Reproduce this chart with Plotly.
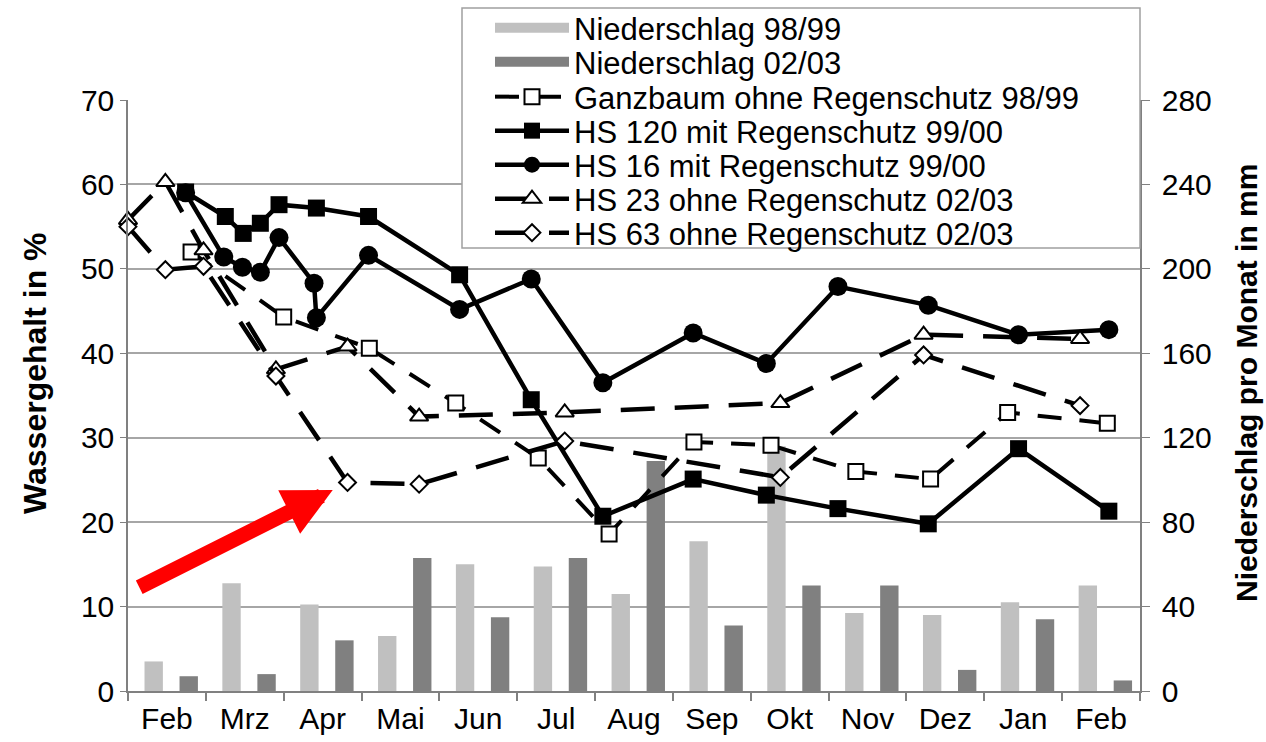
import plotly.graph_objects as go

# Monate (Feb bis Feb), x = Monatsindex, 0 = Beginn Februar
months = ["Feb", "Mrz", "Apr", "Mai", "Jun", "Jul", "Aug", "Sep", "Okt", "Nov", "Dez", "Jan", "Feb"]

# Niederschlag pro Monat in mm
niederschlag_9899 = [14, 51, 41, 26, 60, 59, 46, 71, 116, 37, 36, 42, 50]
niederschlag_0203 = [7, 8, 24, 63, 35, 63, 109, 31, 50, 50, 10, 34, 5]

# Wassergehalt in % (Messzeitpunkte als Bruchteil der Monate)
ganzbaum_x = [0.81, 2.00, 3.10, 4.21, 5.27, 6.18, 7.27, 8.26, 9.35, 10.31, 11.30, 12.58]
ganzbaum_y = [52.0, 44.3, 40.6, 34.1, 27.6, 18.6, 29.5, 29.1, 26.0, 25.1, 33.0, 31.7]

hs120_x = [0.74, 1.25, 1.48, 1.70, 1.94, 2.42, 3.09, 4.26, 5.18, 6.10, 7.26, 8.20, 9.12, 10.28, 11.44, 12.60]
hs120_y = [59.1, 56.2, 54.2, 55.4, 57.6, 57.2, 56.2, 49.3, 34.5, 20.7, 25.1, 23.2, 21.6, 19.8, 28.7, 21.3]

hs16_x = [0.74, 1.23, 1.47, 1.70, 1.94, 2.39, 2.42, 3.09, 4.26, 5.18, 6.10, 7.26, 8.20, 9.12, 10.28, 11.44, 12.60]
hs16_y = [59.0, 51.4, 50.2, 49.6, 53.7, 48.3, 44.2, 51.6, 45.2, 48.8, 36.5, 42.4, 38.8, 47.9, 45.7, 42.2, 42.8]

messung_0203_x = [0.0, 0.48, 0.97, 1.90, 2.82, 3.74, 5.61, 8.38, 10.22, 12.23]
hs23_y = [55.8, 60.3, 52.2, 38.1, 40.8, 32.5, 33.0, 34.1, 42.2, 41.7]
hs63_y = [55.0, 49.9, 50.3, 37.3, 24.7, 24.5, 29.6, 25.3, 39.8, 33.8]

# Seitenlayout in Pixeln
WIDTH, HEIGHT = 1266, 742
PLOT_LEFT, PLOT_RIGHT, PLOT_TOP, PLOT_BOTTOM = 128, 1140, 100, 691
PLOT_W = PLOT_RIGHT - PLOT_LEFT
PLOT_H = PLOT_BOTTOM - PLOT_TOP

FONT = "Liberation Sans, Arial, sans-serif"
AXIS_GRAY = "#808080"
LIGHT_BAR = "#c0c0c0"
DARK_BAR = "#808080"


def paper_x(px):
    return (px - PLOT_LEFT) / PLOT_W


def paper_y(py):
    return (PLOT_BOTTOM - py) / PLOT_H


def create_figure():
    fig = go.Figure()
    month_idx = list(range(len(months)))

    # Balken (rechte Achse)
    fig.add_trace(go.Bar(
        x=month_idx, y=niederschlag_9899, offset=0.212, width=0.236,
        marker=dict(color=LIGHT_BAR, line=dict(width=0)),
        name="Niederschlag 98/99", yaxis="y", showlegend=False,
    ))
    fig.add_trace(go.Bar(
        x=month_idx, y=niederschlag_0203, offset=0.662, width=0.236,
        marker=dict(color=DARK_BAR, line=dict(width=0)),
        name="Niederschlag 02/03", yaxis="y", showlegend=False,
    ))
    # breite Legendenfelder für die Balken
    for name, color, leg in [("Niederschlag 98/99", LIGHT_BAR, "legend2"),
                             ("Niederschlag 02/03", DARK_BAR, "legend3")]:
        fig.add_trace(go.Scatter(
            x=[None], y=[None], mode="lines", name=name, legend=leg,
            line=dict(color=color, width=10), yaxis="y",
        ))

    # Linien (linke Achse)
    fig.add_trace(go.Scatter(
        x=ganzbaum_x, y=ganzbaum_y, mode="lines+markers", yaxis="y2",
        name="Ganzbaum ohne Regenschutz 98/99", legend="legend4",
        line=dict(color="black", width=4, dash="24px,18px"),
        marker=dict(symbol="square", size=15, color="white", line=dict(color="black", width=2)),
        cliponaxis=False,
    ))
    fig.add_trace(go.Scatter(
        x=hs120_x, y=hs120_y, mode="lines+markers", yaxis="y2",
        name="HS 120 mit Regenschutz 99/00", legend="legend5",
        line=dict(color="black", width=4.5),
        marker=dict(symbol="square", size=17, color="black"),
        cliponaxis=False,
    ))
    fig.add_trace(go.Scatter(
        x=hs16_x, y=hs16_y, mode="lines+markers", yaxis="y2",
        name="HS 16 mit Regenschutz 99/00", legend="legend6",
        line=dict(color="black", width=4.5),
        marker=dict(symbol="circle", size=19, color="black"),
        cliponaxis=False,
    ))
    fig.add_trace(go.Scatter(
        x=messung_0203_x, y=hs23_y, mode="lines+markers", yaxis="y2",
        name="HS 23 ohne Regenschutz 02/03", legend="legend7",
        line=dict(color="black", width=4.5, dash="34px,20px"),
        marker=dict(symbol="triangle-up", size=16, color="white", line=dict(color="black", width=2)),
        cliponaxis=False,
    ))
    fig.add_trace(go.Scatter(
        x=messung_0203_x, y=hs63_y, mode="lines+markers", yaxis="y2",
        name="HS 63 ohne Regenschutz 02/03", legend="legend8",
        line=dict(color="black", width=4.5, dash="34px,20px"),
        marker=dict(symbol="diamond", size=13, color="white", line=dict(color="black", width=2)),
        cliponaxis=False,
    ))

    # Legendenkasten
    fig.add_shape(
        type="rect", xref="paper", yref="paper", layer="above",
        x0=paper_x(462), x1=paper_x(1140), y0=paper_y(248), y1=paper_y(8),
        fillcolor="white", line=dict(color="#a0a0a0", width=1.5),
    )

    # roter Pfeil
    fig.add_annotation(
        x=2.63, y=23.8, xref="x", yref="y2", text="",
        showarrow=True, ax=-195, ay=98, arrowcolor="#ff0000",
        arrowwidth=15, arrowhead=2, arrowsize=0.65,
    )

    # Achsentitel
    fig.add_annotation(
        x=paper_x(35), y=paper_y(373), xref="paper", yref="paper",
        xanchor="center", yanchor="middle",
        text="Wassergehalt in %", textangle=-90, showarrow=False,
        font=dict(size=32, weight="bold"),
    )
    fig.add_annotation(
        x=paper_x(1246), y=paper_y(383), xref="paper", yref="paper",
        xanchor="center", yanchor="middle",
        text="Niederschlag pro Monat in mm", textangle=-90, showarrow=False,
        font=dict(size=30, weight="bold"),
    )

    # eine Legende pro Eintrag, damit der Zeilenabstand passt
    legend_rows = [28, 62, 97, 131, 165, 199, 233]
    legends = {"legend": dict(visible=False)}
    for i, row in enumerate(legend_rows):
        legends[f"legend{i + 2}"] = dict(
            xref="container", yref="container",
            x=490 / WIDTH, y=1 - row / HEIGHT, xanchor="left", yanchor="middle",
            bgcolor="rgba(0,0,0,0)", borderwidth=0, itemwidth=74,
            font=dict(family=FONT, size=31, color="black"),
        )

    fig.update_layout(
        width=WIDTH, height=HEIGHT,
        margin=dict(l=PLOT_LEFT, r=WIDTH - PLOT_RIGHT, t=PLOT_TOP, b=HEIGHT - PLOT_BOTTOM,
                    autoexpand=False),
        plot_bgcolor="white", paper_bgcolor="white",
        font=dict(family=FONT, size=30, color="black"),
        barmode="overlay",
        showlegend=True,
        xaxis=dict(
            range=[0, len(months)], tickmode="array",
            tickvals=[i + 0.5 for i in month_idx], ticktext=months, ticks="",
            minor=dict(tickvals=list(range(len(months) + 1)), ticks="outside",
                       ticklen=8, tickcolor=AXIS_GRAY, tickwidth=1.5),
            showgrid=False, zeroline=False, showline=True,
            linecolor=AXIS_GRAY, linewidth=1.5,
            tickfont=dict(size=30),
        ),
        yaxis=dict(
            range=[0, 280], tickmode="linear", tick0=0, dtick=40, side="right",
            showgrid=True, gridcolor="#a6a6a6", gridwidth=1.5, zeroline=False,
            showline=True, linecolor=AXIS_GRAY, linewidth=1.5,
            ticks="outside", ticklen=8, tickcolor=AXIS_GRAY, ticklabelstandoff=6,
            tickfont=dict(size=30),
        ),
        yaxis2=dict(
            range=[0, 70], tickmode="linear", tick0=0, dtick=10, side="left",
            overlaying="y", showgrid=False, zeroline=False,
            showline=True, linecolor=AXIS_GRAY, linewidth=1.5,
            ticks="outside", ticklen=6, tickcolor=AXIS_GRAY,
            tickfont=dict(size=30),
        ),
        **legends,
    )
    return fig


fig = create_figure()
# Browser-Standardrand entfernen, damit die Grafik bündig im Fenster liegt
fig.write_html(
    "out.html",
    config={"displayModeBar": False},
    post_script="document.body.style.margin='0';",
)
